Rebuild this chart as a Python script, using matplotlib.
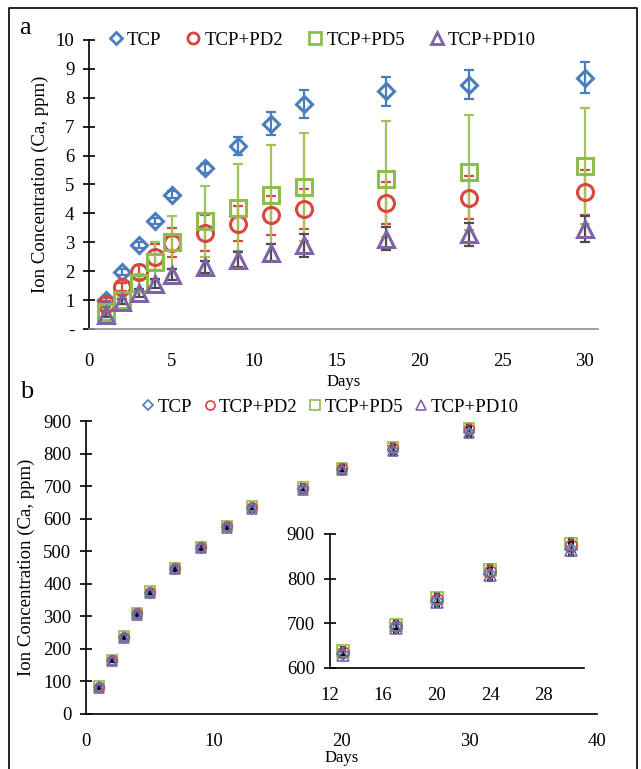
import matplotlib
matplotlib.use("Agg")
import matplotlib.pyplot as plt
from matplotlib.lines import Line2D

plt.rcParams['font.family'] = ['Liberation Serif', 'DejaVu Serif']

# ---------------- data ----------------
series = ["TCP", "TCP+PD2", "TCP+PD5", "TCP+PD10"]

days_a = [1, 2, 3, 4, 5, 7, 9, 11, 13, 18, 23, 30]
tcp_a = [1.0, 1.98, 2.9, 3.75, 4.65, 5.56, 6.33, 7.1, 7.78, 8.23, 8.45, 8.7]
tcp_a_err = [0.08, 0.1, 0.1, 0.1, 0.12, 0.15, 0.3, 0.4, 0.48, 0.5, 0.5, 0.55]
pd2_a = [0.86, 1.45, 1.98, 2.5, 2.98, 3.33, 3.65, 3.93, 4.15, 4.37, 4.55, 4.73]
pd2_a_err = [0.1, 0.15, 0.25, 0.45, 0.5, 0.63, 0.62, 0.67, 0.7, 0.72, 0.75, 0.77]
pd5_a = [0.6, 1.0, 1.6, 2.33, 3.0, 3.72, 4.2, 4.65, 4.9, 5.19, 5.42, 5.63]
pd5_a_err = [0.1, 0.15, 0.3, 0.67, 0.92, 1.23, 1.5, 1.7, 1.87, 2.0, 2.0, 2.0]
pd10_a = [0.5, 0.95, 1.25, 1.57, 1.88, 2.15, 2.4, 2.64, 2.9, 3.13, 3.28, 3.47]
pd10_a_err = [0.1, 0.1, 0.15, 0.15, 0.2, 0.2, 0.25, 0.3, 0.4, 0.4, 0.4, 0.45]

days_b = [1, 2, 3, 4, 5, 7, 9, 11, 13, 17, 20, 24, 30]
tcp_b = [82, 164, 235, 306, 373, 445, 510, 573, 632, 691, 750, 810, 867]
pd2_b = [84, 166, 238, 309, 376, 448, 513, 576, 636, 695, 755, 817, 875]
pd5_b = [85, 167, 239, 310, 377, 449, 514, 577, 638, 697, 757, 819, 878]
pd10_b = [81, 163, 234, 305, 372, 444, 509, 572, 630, 689, 748, 808, 864]
err_b = [3, 4, 4, 5, 5, 6, 6, 7, 8, 10, 11, 13, 14]

a_yticks = [0, 1, 2, 3, 4, 5, 6, 7, 8, 9, 10]
a_yticklabels = ["-", "1", "2", "3", "4", "5", "6", "7", "8", "9", "10"]
a_xticks = [0, 5, 10, 15, 20, 25, 30]
b_yticks = [0, 100, 200, 300, 400, 500, 600, 700, 800, 900]
b_xticks = [0, 10, 20, 30, 40]
inset_xticks = [12, 16, 20, 24, 28]
inset_yticks = [600, 700, 800, 900]

# ---------------- styles ----------------
colors = ["#4a7ebb", "#d9463e", "#8cbd4f", "#7f62a8"]
err_colors = ["#4a7ebb", "#d9463e", "#a2c25a", "#4d4d4d"]
markers = ["D", "o", "s", "^"]
msize_a = [8, 11.5, 12, 12]
FS = 13.5

W, H = 641, 769
fig = plt.figure(figsize=(W / 100, H / 100), dpi=100)

def ax_rect(x0, y0, x1, y1):
    return [x0 / W, 1 - y1 / H, (x1 - x0) / W, (y1 - y0) / H]

# ---------------- panel a ----------------
ax = fig.add_axes(ax_rect(89, 40, 598, 329))
data_a = [(tcp_a, tcp_a_err), (pd2_a, pd2_a_err), (pd5_a, pd5_a_err), (pd10_a, pd10_a_err)]
for i, (v, e) in enumerate(data_a):
    ax.errorbar(days_a, v, yerr=e, fmt="none", ecolor=err_colors[i], elinewidth=1.6,
                capsize=3.5, capthick=1.6, zorder=2 + i * 0.1)
for i, (v, e) in enumerate(data_a):
    ax.plot(days_a, v, linestyle="none", marker=markers[i], markersize=msize_a[i],
            markerfacecolor="none", markeredgecolor=colors[i], markeredgewidth=2.2,
            zorder=3 + i * 0.1)
ax.set_xlim(0, 30.8)
ax.set_ylim(0, 10)
ax.set_yticks(a_yticks)
ax.set_yticklabels(a_yticklabels)
ax.set_xticks(a_xticks)
ax.tick_params(axis="y", direction="inout", length=9, width=1.2, labelsize=FS, pad=6)
ax.tick_params(axis="x", length=0, labelsize=FS, pad=17)
for s in ["top", "right"]:
    ax.spines[s].set_visible(False)
ax.spines["left"].set_linewidth(1.2)
ax.spines["bottom"].set_color("#909090")
ax.spines["bottom"].set_linewidth(1.2)
ax.set_xlabel("Days", fontsize=12, labelpad=3)
ax.set_ylabel("Ion Concentration (Ca, ppm)", fontsize=FS, labelpad=5)

handles_a = [Line2D([], [], linestyle="none", marker=markers[i],
                    markersize=[6, 8, 8, 8][i], markerfacecolor="none",
                    markeredgecolor=colors[i], markeredgewidth=2) for i in range(4)]
fig.legend(handles_a, series, loc="center", bbox_to_anchor=(322 / W, 1 - 40 / H),
           ncol=4, frameon=False, fontsize=FS, handlelength=0.8, handletextpad=0.2,
           columnspacing=1.3, borderpad=0)

# ---------------- panel b ----------------
axb = fig.add_axes(ax_rect(86, 421, 597, 714))
data_b = [tcp_b, pd2_b, pd5_b, pd10_b]

def draw_b(a, ms, lw):
    for i, v in enumerate(data_b):
        a.errorbar(days_b, v, yerr=err_b, fmt="none", ecolor="black", elinewidth=1.0,
                   capsize=2.5, capthick=1.4, zorder=2)
    order = [2, 1, 0, 3]
    for i in order:
        a.plot(days_b, data_b[i], linestyle="none", marker=markers[i],
               markersize=[ms * 0.8, ms, ms, ms][i],
               markerfacecolor="none", markeredgecolor=colors[i],
               markeredgewidth=lw, zorder=3)

draw_b(axb, 7, 1.2)
axb.set_xlim(0, 40)
axb.set_ylim(0, 900)
axb.set_yticks(b_yticks)
axb.set_xticks(b_xticks)
axb.tick_params(axis="y", direction="inout", length=9, width=1.2, labelsize=FS, pad=6)
axb.tick_params(axis="x", length=0, labelsize=FS, pad=14)
for s in ["top", "right"]:
    axb.spines[s].set_visible(False)
axb.spines["left"].set_linewidth(1.2)
axb.spines["bottom"].set_linewidth(1.2)
axb.set_xlabel("Days", fontsize=12, labelpad=0)
axb.set_ylabel("Ion Concentration (Ca, ppm)", fontsize=FS, labelpad=6)

handles_b = [Line2D([], [], linestyle="none", marker=markers[i],
                    markersize=[5, 6.5, 6.5, 6.5][i], markerfacecolor="none",
                    markeredgecolor=colors[i], markeredgewidth=1.2) for i in range(4)]
fig.legend(handles_b, series, loc="center", bbox_to_anchor=(330 / W, 1 - 407 / H),
           ncol=4, frameon=False, fontsize=FS, handlelength=0.7, handletextpad=0.15,
           columnspacing=0.6, borderpad=0)

# inset
axi = fig.add_axes(ax_rect(329.5, 534, 584, 668))
draw_b(axi, 8, 1.2)
axi.set_xlim(12, 31)
axi.set_ylim(600, 900)
axi.set_xticks(inset_xticks)
axi.set_yticks(inset_yticks)
axi.tick_params(axis="y", direction="inout", length=9, width=1.2, labelsize=FS, pad=6)
axi.tick_params(axis="x", length=0, labelsize=FS, pad=14)
for s in ["top", "right"]:
    axi.spines[s].set_visible(False)
axi.spines["left"].set_linewidth(1.2)
axi.spines["bottom"].set_linewidth(1.2)
axi.patch.set_alpha(0)

# panel labels
fig.text(25 / W, 1 - 28 / H, "a", fontsize=19, ha="center", va="center")
fig.text(27 / W, 1 - 392 / H, "b", fontsize=19, ha="center", va="center")

# figure frame (left, top, right edges)
xl, xr, yt = 9 / W, (W - 4) / W, 1 - 8 / H
fig.add_artist(Line2D([xl, xl, xr, xr], [0, yt, yt, 0], transform=fig.transFigure,
                      color="black", linewidth=1.2))

fig.savefig("out.png", dpi=100)
